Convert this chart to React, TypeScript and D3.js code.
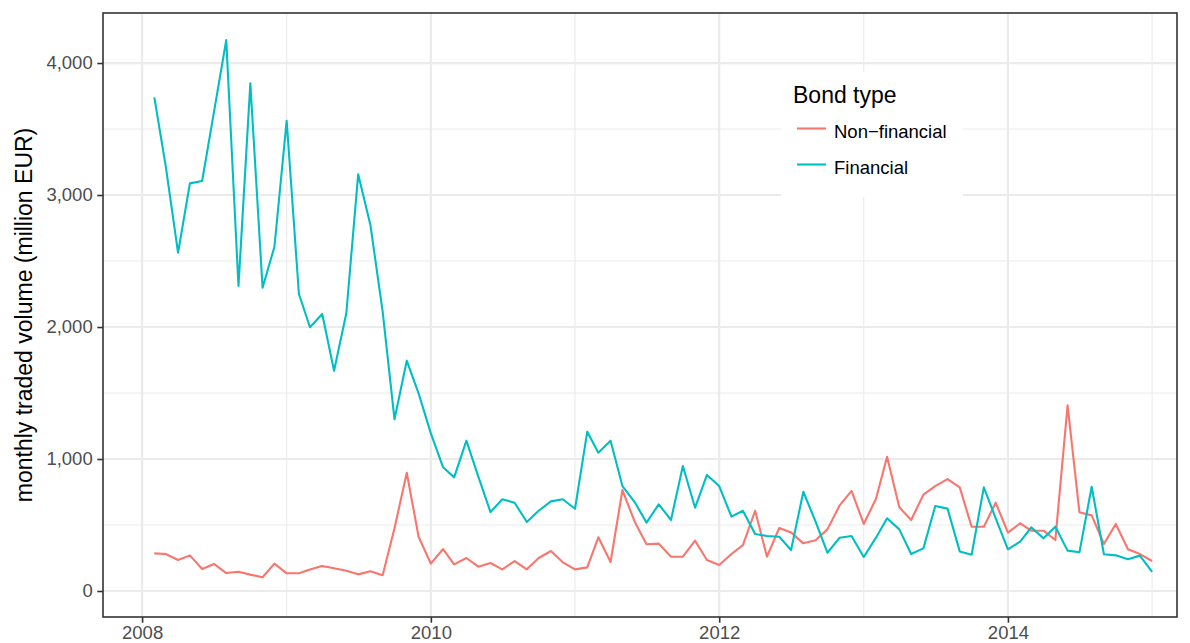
import { useEffect, useRef } from 'react';
import * as d3 from 'd3';

// monthly traded volume (million EUR), Feb 2008 .. Jan 2015
const startMonth = new Date(2008, 1, 1);
const nonFinancial = [
  285, 280, 235, 270, 167, 205, 136, 146, 124, 104, 207,
  134, 134, 162, 189, 172, 154, 126, 149, 119, 475, 896, 411,
  207, 318, 202, 250, 184, 212, 164, 227, 164, 250, 303, 217,
  164, 179, 407, 220, 765, 525, 354, 359, 260, 260, 381, 235,
  197, 280, 348, 608, 260, 477, 444, 361, 384, 467, 649, 758,
  508, 699, 1017, 634, 538, 730, 795, 848, 785, 487, 487, 669,
  442, 513, 457, 457, 386, 1407, 596, 573, 356, 508, 316, 280,
  227,
];
const financial = [
  3740, 3215, 2563, 3088, 3106, 3630, 4174, 2311, 3846, 2298, 2608,
  3563, 2250, 1998, 2098, 1669, 2104, 3157, 2773, 2116, 1301, 1745, 1497,
  1194, 937, 861, 1139, 869, 598, 695, 669, 523, 608, 679, 695,
  623, 1207, 1048, 1139, 795, 674, 518, 657, 538, 947, 631, 879,
  795, 563, 608, 432, 417, 411, 311, 752, 525, 290, 404, 417,
  258, 404, 551, 467, 280, 323, 644, 624, 300, 275, 785, 551,
  316, 374, 482, 399, 487, 306, 293, 790, 278, 270, 240, 268,
  144,
];
const seriesNames = ['Non\u2212financial', 'Financial'];
const seriesColors = ['#F8766D', '#00BFC4'];
const yMajor = [0, 1000, 2000, 3000, 4000];
const yMinor = [500, 1500, 2500, 3500];
const xMajorYears = [2008, 2010, 2012, 2014];
const xMinorYears = [2009, 2011, 2013, 2015];

export default function App() {
  const svgRef = useRef<SVGSVGElement | null>(null);

  useEffect(() => {
    const svg = d3.select(svgRef.current);
    svg.selectAll('*').remove();

    const width = 1190, height = 643;
    const panel = { left: 103, right: 1177, top: 13, bottom: 617 };
    const font = '"Liberation Sans", Arial, Helvetica, sans-serif';
    const small = 18.5, big = 23;

    const x = d3.scaleTime()
      .domain([d3.timeDay.offset(new Date(2008, 0, 1), -99), d3.timeDay.offset(new Date(2015, 0, 1), 63)])
      .range([panel.left, panel.right]);
    const y = d3.scaleLinear().domain([-197, 4379]).range([panel.bottom, panel.top]);

    const months = nonFinancial.map((_, i) => d3.timeMonth.offset(startMonth, i));

    svg.attr('width', width).attr('height', height);
    svg.append('rect').attr('width', width).attr('height', height).attr('fill', '#fff');

    const g = svg.append('g');
    // grid (minor first, then major)
    g.selectAll('line.ymin').data(yMinor).join('line')
      .attr('x1', panel.left).attr('x2', panel.right)
      .attr('y1', d => y(d)).attr('y2', d => y(d))
      .attr('stroke', '#EBEBEB').attr('stroke-width', 1.1);
    g.selectAll('line.xmin').data(xMinorYears).join('line')
      .attr('y1', panel.top).attr('y2', panel.bottom)
      .attr('x1', d => x(new Date(d, 0, 1))).attr('x2', d => x(new Date(d, 0, 1)))
      .attr('stroke', '#EBEBEB').attr('stroke-width', 1.1);
    g.selectAll('line.ymaj').data(yMajor).join('line')
      .attr('x1', panel.left).attr('x2', panel.right)
      .attr('y1', d => y(d)).attr('y2', d => y(d))
      .attr('stroke', '#EBEBEB').attr('stroke-width', 2.2);
    g.selectAll('line.xmaj').data(xMajorYears).join('line')
      .attr('y1', panel.top).attr('y2', panel.bottom)
      .attr('x1', d => x(new Date(d, 0, 1))).attr('x2', d => x(new Date(d, 0, 1)))
      .attr('stroke', '#EBEBEB').attr('stroke-width', 2.2);

    // lines
    const line = d3.line<number>()
      .x((_, i) => x(months[i]))
      .y(d => y(d));
    [nonFinancial, financial].forEach((s, k) => {
      svg.append('path').attr('d', line(s) || '')
        .attr('fill', 'none').attr('stroke', seriesColors[k])
        .attr('stroke-width', 2.1).attr('stroke-linejoin', 'round');
    });

    // legend
    const lg = svg.append('g').attr('transform', 'translate(781,72)');
    lg.append('rect').attr('width', 182).attr('height', 125).attr('fill', '#fff');
    lg.append('text').attr('x', 12).attr('y', 31).text('Bond type')
      .attr('font-family', font).attr('font-size', big).attr('fill', '#000');
    seriesNames.forEach((n, k) => {
      const yy = 56.5 + k * 36;
      lg.append('line').attr('x1', 16).attr('x2', 45).attr('y1', yy).attr('y2', yy)
        .attr('stroke', seriesColors[k]).attr('stroke-width', 2.1);
      lg.append('text').attr('x', 53).attr('y', yy + 9.5).text(n)
        .attr('font-family', font).attr('font-size', small).attr('fill', '#000');
    });

    // border
    svg.append('rect')
      .attr('x', panel.left).attr('y', panel.top)
      .attr('width', panel.right - panel.left).attr('height', panel.bottom - panel.top)
      .attr('fill', 'none').attr('stroke', '#333333').attr('stroke-width', 1.6);

    // axes
    const yAxis = svg.append('g').attr('transform', `translate(${panel.left},0)`)
      .call(d3.axisLeft(y).tickValues(yMajor).tickSize(5.7).tickPadding(4.6).tickFormat(d3.format(',')));
    yAxis.select('.domain').remove();
    yAxis.selectAll('line').attr('stroke', '#333333').attr('stroke-width', 1.6);
    yAxis.selectAll('text').attr('font-family', font).attr('font-size', small).attr('fill', '#4D4D4D');

    const xAxis = svg.append('g').attr('transform', `translate(0,${panel.bottom})`)
      .call(d3.axisBottom(x).tickValues(xMajorYears.map(v => new Date(v, 0, 1)))
        .tickSize(5.7).tickPadding(3.5).tickFormat(d3.timeFormat('%Y') as any));
    xAxis.select('.domain').remove();
    xAxis.selectAll('line').attr('stroke', '#333333').attr('stroke-width', 1.6);
    xAxis.selectAll('text').attr('font-family', font).attr('font-size', small).attr('fill', '#4D4D4D');

    svg.append('text')
      .attr('transform', `translate(32,${(panel.top + panel.bottom) / 2}) rotate(-90)`)
      .attr('text-anchor', 'middle')
      .attr('font-family', font).attr('font-size', big).attr('fill', '#000')
      .text('monthly traded volume (million EUR)');
  }, []);

  return (
    <svg ref={svgRef} style={{ position: 'absolute', left: 0, top: 0, display: 'block' }} />
  );
}
